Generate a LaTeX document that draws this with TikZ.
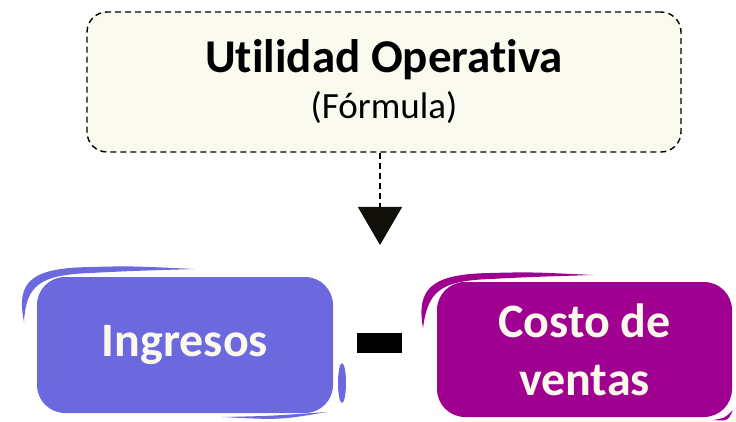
\documentclass[tikz,border=0pt]{standalone}
\usepackage{fontspec}
\setmainfont[Ligatures=NoCommon]{Carlito}
\usetikzlibrary{arrows.meta}
\definecolor{formulaback}{RGB}{250,250,238}
\definecolor{ingresosfill}{RGB}{108,105,223}
\definecolor{costofill}{RGB}{160,0,143}
\definecolor{cremetext}{RGB}{251,249,236}
\definecolor{puntanegra}{RGB}{16,15,10}

\tikzset{
  cajasketch/.style={rounded corners=28pt,inner sep=0pt,align=center,
    text=cremetext,font=\bfseries\fontsize{48}{58}\selectfont},
}

\begin{document}
\begin{tikzpicture}[x=1pt,y=-1pt]
\useasboundingbox (0,0) rectangle (736,422);

\node [draw,dashed,dash pattern=on 6pt off 4pt,line width=1.4pt,fill=formulaback,
  rounded corners=20pt,minimum width=594pt,minimum height=140pt,align=center,
  font=\fontsize{37}{46}\selectfont]
  (utilidad) at (384,82)
{
{\bfseries\fontsize{47}{46}\selectfont Utilidad Operativa}\\
(Fórmula)
};

\node [cajasketch,fill=ingresosfill,minimum width=296pt,minimum height=136pt]
  (ingresos) at (185,345) {Ingresos};
\node [cajasketch,fill=costofill,minimum width=295pt,minimum height=135pt]
  (costo) at (584.5,349.5) {Costo de\\ventas};
\node [fill=black,inner sep=0pt,minimum width=45pt,minimum height=20pt]
  (menos) at (379.5,343) {};

% trazos a mano alrededor de las cajas
\fill [ingresosfill] (24,322) .. controls (16,282) and (30,268) .. (90,267)
  .. controls (130,266) .. (195,269) .. controls (130,271) .. (90,273)
  .. controls (40,275) and (26,285) .. (24,322) -- cycle;
\fill [ingresosfill] (342,383) ellipse [x radius=4,y radius=20];
\fill [ingresosfill] (222,417) .. controls (270,416) .. (327,412)
  .. controls (280,420) .. (222,417) -- cycle;
\fill [costofill] (423,328) .. controls (416,288) and (432,274) .. (490,273)
  .. controls (530,272) .. (593,275) .. controls (530,277) .. (490,279)
  .. controls (440,281) and (428,291) .. (423,328) -- cycle;
\fill [costofill] (713,420) .. controls (725,418) .. (733,410)
  .. controls (728,421) .. (713,420) -- cycle;

\coordinate (punta) at (380,245);
\draw [dashed,dash pattern=on 6pt off 4pt,line width=1.4pt,
  -{Triangle[width=44pt,length=38pt,color=puntanegra]}]
  ([xshift=-4pt]utilidad.south) -- (punta);
\end{tikzpicture}
\end{document}
